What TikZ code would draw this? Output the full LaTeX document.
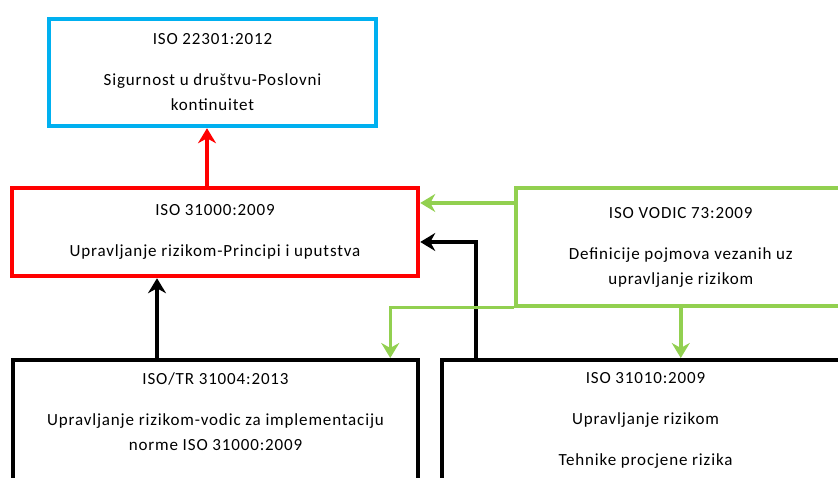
\documentclass[tikz,border=0pt]{standalone}
\usepackage{fontspec}
\setmainfont{Carlito}[LetterSpace=5]
\usetikzlibrary{arrows.meta}
\definecolor{isoblue}{RGB}{0,176,240}
\definecolor{isored}{RGB}{255,0,0}
\definecolor{isogreen}{RGB}{146,208,80}
\tikzset{
  normbox/.style={draw, line width=4.5pt, fill=white, text=black, align=center, inner xsep=0pt,
    inner ysep=12pt, font=\fontsize{17}{25}\selectfont},
  normlink/.style={line width=4.5pt, -{Stealth[length=15pt,width=18pt,inset=5pt]}},
}
\begin{document}
\begin{tikzpicture}[scale=1.000000,x=1pt,y=1pt]
\useasboundingbox (0,0) rectangle (838,478);
% Drawing boxes
\node[normbox, draw=isoblue, minimum width=327pt, minimum height=107pt] (iso22301) at (212.5,405.5)
  {ISO 22301:2012\\[16pt]Sigurnost u društvu-Poslovni\\kontinuitet};
\node[normbox, draw=isored, minimum width=406pt, minimum height=88pt] (iso31000) at (215,246)
  {ISO 31000:2009\\[16pt]Upravljanje rizikom-Principi i uputstva};
\node[normbox, draw=isogreen, line width=3.5pt, minimum width=330pt, minimum height=118pt] (vodic73) at (680.75,231)
  {ISO VODIC 73:2009\\[16pt]Definicije pojmova vezanih uz\\upravljanje rizikom};
\node[normbox, draw=black, minimum width=405pt, anchor=north, text depth=90pt] (tr31004) at (215.5,120)
  {ISO/TR 31004:2013\\[16pt]Upravljanje rizikom-vodic za implementaciju\\norme ISO 31000:2009};
\node[normbox, draw=black, minimum width=407pt, anchor=north, text depth=90pt] (iso31010) at (645.5,120)
  {ISO 31010:2009\\[16pt]Upravljanje rizikom\\[16pt]Tehnike procjene rizika};
% Done with boxes; drawing links
\draw[normlink, isored] ([xshift=-8pt]iso31000.north) -- ([xshift=-8pt]iso31000.north |- iso22301.south);
\draw[normlink, black] ([xshift=-58.5pt]tr31004.north) -- ([xshift=-58.5pt]tr31004.north |- iso31000.south);
\draw[normlink, isogreen, line width=3.5pt] ([yshift=44pt]vodic73.west) -- ([yshift=44pt]vodic73.west -| iso31000.east);
\draw[normlink, black] ([xshift=36pt]iso31010.north west) |- ([yshift=-10pt]iso31000.east);
\draw[normlink, isogreen, line width=3.5pt] (vodic73.south west) -| ([xshift=-30pt]tr31004.north east);
\draw[normlink, isogreen, line width=3.5pt] (vodic73.south) -- (vodic73.south |- iso31010.north);
% Done with links
\end{tikzpicture}
\end{document}
